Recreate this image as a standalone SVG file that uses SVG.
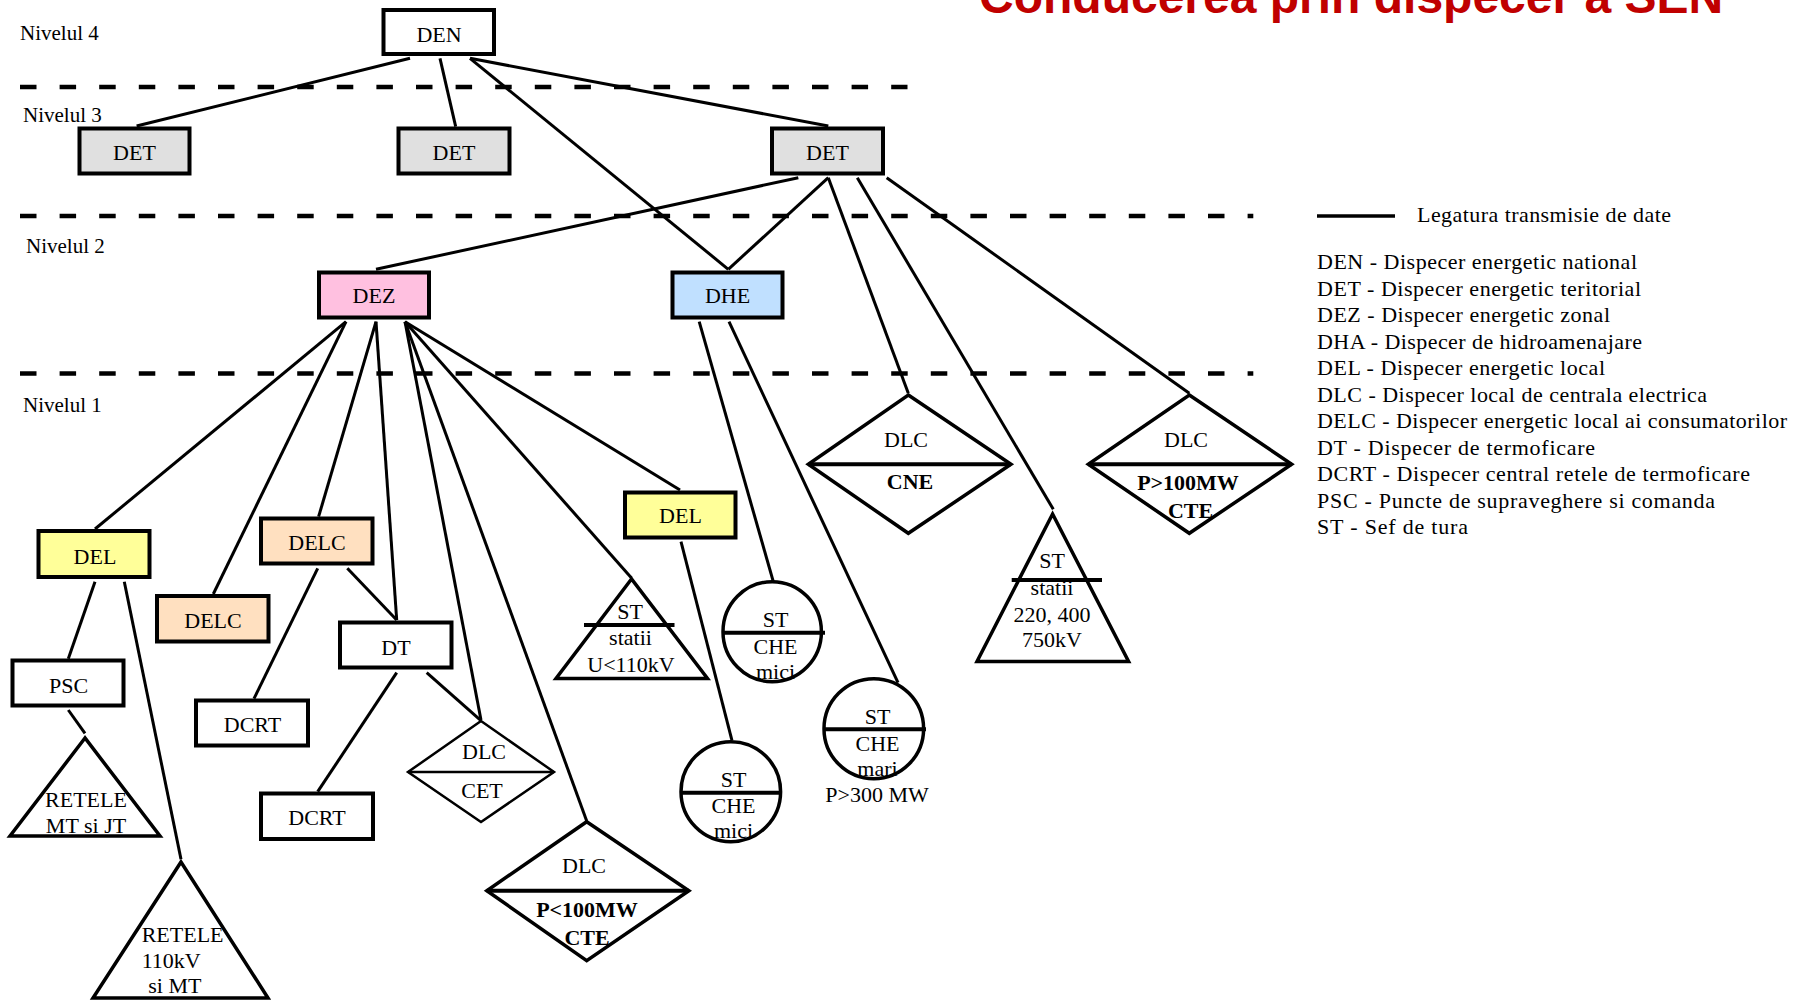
<svg xmlns="http://www.w3.org/2000/svg" width="1803" height="1000" viewBox="0 0 1803 1000">
  <style>
    .bg { fill: #ffffff; }
    .dash { stroke: #000; stroke-width: 4.5; stroke-dasharray: 16.5 23.1; fill: none; }
    .conn { stroke: #000; stroke-width: 3; fill: none; }
    .box { stroke: #000; stroke-width: 4; }
    .shape { fill: #fff; stroke: #000; stroke-width: 3.5; }
    .thin { fill: #fff; stroke: #000; stroke-width: 2.5; }
    .bar { stroke: #000; stroke-width: 4; }
    .lbl { font-family: "Liberation Serif", "Times New Roman", serif; font-size: 22px; text-anchor: middle; fill: #000; }
    .left { text-anchor: start; }
    .b { font-weight: bold; }
    .lvl { font-family: "Liberation Serif", "Times New Roman", serif; font-size: 21px; fill: #000; }
    .leg { font-family: "Liberation Serif", "Times New Roman", serif; font-size: 22px; fill: #000; }
    .title { font-family: "Liberation Sans", Arial, sans-serif; font-size: 48px; font-weight: bold; fill: #c00000; }
    .white { fill: #ffffff; }
    .gray { fill: #e0e0e0; }
    .pink { fill: #ffc0e0; }
    .blue { fill: #c0e0ff; }
    .yellow { fill: #ffff99; }
    .peach { fill: #ffe0c0; }
  </style>

  <rect class="bg" x="0" y="0" width="1803" height="1000"/>

  <!-- title, partly above the top edge -->
  <text class="title" x="979" y="12.5">Conducerea prin dispecer a SEN</text>

  <!-- level separators -->
  <g id="levels">
    <line class="dash" x1="20" y1="87" x2="907.5" y2="87"/>
    <line class="dash" x1="20" y1="216" x2="1253.3" y2="216"/>
    <line class="dash" x1="20" y1="373.5" x2="1253.3" y2="373.5"/>
    <text class="lvl" x="20" y="40">Nivelul 4</text>
    <text class="lvl" x="23" y="122">Nivelul 3</text>
    <text class="lvl" x="26" y="253">Nivelul 2</text>
    <text class="lvl" x="23" y="412">Nivelul 1</text>
  </g>

  <!-- data links -->
  <g id="connectors">
    <line class="conn" x1="410" y1="58.3" x2="136.6" y2="126"/>
    <line class="conn" x1="440" y1="58.3" x2="455.7" y2="126.7"/>
    <line class="conn" x1="470" y1="58.3" x2="728.3" y2="269.3"/>
    <line class="conn" x1="470" y1="58.3" x2="828.3" y2="126"/>
    <line class="conn" x1="828.3" y1="177.7" x2="728.3" y2="269.3"/>
    <line class="conn" x1="798.3" y1="177.7" x2="376" y2="269.3"/>
    <line class="conn" x1="828.3" y1="177.7" x2="908.3" y2="393.3"/>
    <line class="conn" x1="857.3" y1="177.7" x2="1053.3" y2="509.3"/>
    <line class="conn" x1="886.7" y1="177.7" x2="1189.3" y2="393.3"/>
    <line class="conn" x1="346" y1="321.7" x2="95" y2="529"/>
    <line class="conn" x1="346" y1="321.7" x2="213.3" y2="594"/>
    <line class="conn" x1="376" y1="321.7" x2="318.6" y2="516.7"/>
    <line class="conn" x1="376" y1="321.7" x2="396.7" y2="620"/>
    <line class="conn" x1="405" y1="321.7" x2="481" y2="720"/>
    <line class="conn" x1="405" y1="321.7" x2="586.7" y2="821"/>
    <line class="conn" x1="405" y1="321.7" x2="631.5" y2="578"/>
    <line class="conn" x1="405" y1="321.7" x2="680" y2="490"/>
    <line class="conn" x1="317.7" y1="568.3" x2="254" y2="698.7"/>
    <line class="conn" x1="347.3" y1="568.3" x2="396.7" y2="620"/>
    <line class="conn" x1="396.7" y1="672.7" x2="317.7" y2="791.7"/>
    <line class="conn" x1="426.7" y1="672.7" x2="481" y2="720.7"/>
    <line class="conn" x1="95" y1="581.7" x2="68.3" y2="658.7"/>
    <line class="conn" x1="124.3" y1="581.7" x2="181" y2="859.3"/>
    <line class="conn" x1="68.3" y1="710" x2="85" y2="733.3"/>
    <line class="conn" x1="681" y1="541.7" x2="732" y2="740.7"/>
    <line class="conn" x1="699.2" y1="321.7" x2="773.3" y2="581.7"/>
    <line class="conn" x1="729" y1="321.7" x2="898" y2="682.7"/>
  </g>

  <!-- level 4 -->
  <g id="den">
    <rect class="box white" x="383.5" y="10" width="110.5" height="44"/>
    <text class="lbl" x="439" y="41.7">DEN</text>
  </g>

  <!-- level 3 -->
  <g id="det-1">
    <rect class="box gray" x="79.5" y="128.5" width="110" height="45"/>
    <text class="lbl" x="134.5" y="160">DET</text>
  </g>
  <g id="det-2">
    <rect class="box gray" x="398.5" y="128.5" width="111" height="45"/>
    <text class="lbl" x="454" y="160">DET</text>
  </g>
  <g id="det-3">
    <rect class="box gray" x="772" y="128.5" width="111" height="45"/>
    <text class="lbl" x="827.5" y="160">DET</text>
  </g>

  <!-- level 2 -->
  <g id="dez">
    <rect class="box pink" x="319" y="272.5" width="110" height="45"/>
    <text class="lbl" x="374" y="303">DEZ</text>
  </g>
  <g id="dhe">
    <rect class="box blue" x="672.5" y="272.5" width="110" height="45"/>
    <text class="lbl" x="727.5" y="303">DHE</text>
  </g>

  <!-- level 1 -->
  <g id="del-1">
    <rect class="box yellow" x="38.5" y="531" width="111" height="46"/>
    <text class="lbl" x="95" y="564">DEL</text>
  </g>
  <g id="delc-1">
    <rect class="box peach" x="261" y="518.5" width="111.5" height="45"/>
    <text class="lbl" x="317" y="550">DELC</text>
  </g>
  <g id="delc-2">
    <rect class="box peach" x="157" y="596" width="111.5" height="45.5"/>
    <text class="lbl" x="213" y="628">DELC</text>
  </g>
  <g id="psc">
    <rect class="box white" x="12.5" y="660.5" width="111" height="45"/>
    <text class="lbl" x="68.5" y="692.5">PSC</text>
  </g>
  <g id="dt">
    <rect class="box white" x="340" y="622.5" width="111.5" height="45"/>
    <text class="lbl" x="396" y="655">DT</text>
  </g>
  <g id="dcrt-1">
    <rect class="box white" x="196" y="700.5" width="112" height="45"/>
    <text class="lbl" x="252.5" y="731.7">DCRT</text>
  </g>
  <g id="dcrt-2">
    <rect class="box white" x="261" y="793.5" width="112" height="45.5"/>
    <text class="lbl" x="317" y="825">DCRT</text>
  </g>
  <g id="del-2">
    <rect class="box yellow" x="625" y="492.5" width="110.5" height="45"/>
    <text class="lbl" x="680.5" y="523.3">DEL</text>
  </g>

  <!-- networks -->
  <g id="retele-mt-jt">
    <polygon class="shape" points="85,738 10,836 160,836"/>
    <text class="lbl" x="86" y="806.7">RETELE</text>
    <text class="lbl" x="86" y="832.7">MT si JT</text>
  </g>
  <g id="retele-110">
    <polygon class="shape" points="181,862 93,998 268,998"/>
    <text class="lbl left" x="141.7" y="941.7">RETELE</text>
    <text class="lbl left" x="141.7" y="968.3">110kV</text>
    <text class="lbl left" x="148.3" y="993">si MT</text>
  </g>

  <!-- power plant dispatchers -->
  <g id="dlc-cet">
    <polygon class="thin" points="481,721 554,772 481,822 408,772"/>
    <line class="conn" x1="408" y1="772" x2="554" y2="772" style="stroke-width:2.5"/>
    <text class="lbl" x="484" y="759.3">DLC</text>
    <text class="lbl" x="482" y="798.3">CET</text>
  </g>
  <g id="dlc-p100-low">
    <polygon class="shape" points="586.7,821.7 688.9,890.7 586.7,960.7 486.8,890.7"/>
    <line class="bar" x1="486.8" y1="890.7" x2="688.9" y2="890.7"/>
    <text class="lbl" x="584" y="872.7">DLC</text>
    <text class="lbl b" x="587" y="916.7">P&lt;100MW</text>
    <text class="lbl b" x="587" y="945">CTE</text>
  </g>
  <g id="dlc-cne">
    <polygon class="shape" points="908.3,395 1011,464.3 908.3,533.3 808.3,464.3"/>
    <line class="bar" x1="808.3" y1="464.3" x2="1011" y2="464.3"/>
    <text class="lbl" x="906" y="446.7">DLC</text>
    <text class="lbl b" x="910" y="489.3">CNE</text>
  </g>
  <g id="dlc-p100-high">
    <polygon class="shape" points="1189.3,395 1291.7,464.3 1189.3,533.3 1088.3,464.3"/>
    <line class="bar" x1="1088.3" y1="464.3" x2="1291.7" y2="464.3"/>
    <text class="lbl" x="1186" y="446.7">DLC</text>
    <text class="lbl b" x="1188" y="490">P&gt;100MW</text>
    <text class="lbl b" x="1190.5" y="518.3">CTE</text>
  </g>

  <!-- shift leaders: substations -->
  <g id="st-statii-110">
    <polygon class="shape" points="631.5,579 556,678.5 707.5,678.5"/>
    <text class="lbl" x="630" y="619.3">ST</text>
    <text class="lbl" x="630.5" y="645">statii</text>
    <text class="lbl" x="631" y="671.7">U&lt;110kV</text>
    <line class="bar" x1="584" y1="625" x2="674.5" y2="625"/>
  </g>
  <g id="st-statii-750">
    <polygon class="shape" points="1052.6,514 977,661.5 1128.6,661.5"/>
    <text class="lbl" x="1052" y="568.3">ST</text>
    <text class="lbl" x="1052" y="595">statii</text>
    <text class="lbl" x="1052" y="621.7">220, 400</text>
    <text class="lbl" x="1052" y="646.7">750kV</text>
    <line class="bar" x1="1011.7" y1="580" x2="1102" y2="580"/>
  </g>

  <!-- shift leaders: hydro plants -->
  <g id="st-che-mici-1">
    <ellipse class="shape" cx="772.2" cy="631.7" rx="49.2" ry="50"/>
    <line class="bar" x1="723" y1="632.7" x2="825" y2="632.7"/>
    <text class="lbl" x="775.5" y="627.3">ST</text>
    <text class="lbl" x="775.5" y="654">CHE</text>
    <text class="lbl" x="775.5" y="679.3">mici</text>
  </g>
  <g id="st-che-mici-2">
    <ellipse class="shape" cx="730.8" cy="791.7" rx="49.8" ry="50"/>
    <line class="bar" x1="681" y1="792.7" x2="782" y2="792.7"/>
    <text class="lbl" x="733.5" y="786.7">ST</text>
    <text class="lbl" x="733.5" y="813.3">CHE</text>
    <text class="lbl" x="733.5" y="838.3">mici</text>
  </g>
  <g id="st-che-mari">
    <ellipse class="shape" cx="873.8" cy="728.7" rx="49.8" ry="50"/>
    <line class="bar" x1="824" y1="729.3" x2="926" y2="729.3"/>
    <text class="lbl" x="877.5" y="724">ST</text>
    <text class="lbl" x="877.5" y="750.7">CHE</text>
    <text class="lbl" x="877.5" y="775.7">mari</text>
    <text class="lbl" x="877" y="801.7">P&gt;300 MW</text>
  </g>

  <!-- legend -->
  <g id="legend">
    <line class="conn" x1="1317" y1="216" x2="1395" y2="216" style="stroke-width:3.5"/>
    <text class="leg" x="1417" y="221.7" textLength="254" lengthAdjust="spacing">Legatura transmisie de date</text>
    <text class="leg" x="1317" y="269" textLength="320" lengthAdjust="spacing">DEN - Dispecer energetic national</text>
    <text class="leg" x="1317" y="295.5" textLength="324" lengthAdjust="spacing">DET - Dispecer energetic teritorial</text>
    <text class="leg" x="1317" y="322" textLength="293" lengthAdjust="spacing">DEZ - Dispecer energetic zonal</text>
    <text class="leg" x="1317" y="348.5" textLength="325" lengthAdjust="spacing">DHA - Dispecer de hidroamenajare</text>
    <text class="leg" x="1317" y="375" textLength="288" lengthAdjust="spacing">DEL - Dispecer energetic local</text>
    <text class="leg" x="1317" y="401.5" textLength="390" lengthAdjust="spacing">DLC - Dispecer local de centrala electrica</text>
    <text class="leg" x="1317" y="428" textLength="470" lengthAdjust="spacing">DELC - Dispecer energetic local ai consumatorilor</text>
    <text class="leg" x="1317" y="454.5" textLength="278" lengthAdjust="spacing">DT - Dispecer de termoficare</text>
    <text class="leg" x="1317" y="481" textLength="433" lengthAdjust="spacing">DCRT - Dispecer central retele de termoficare</text>
    <text class="leg" x="1317" y="507.5" textLength="398" lengthAdjust="spacing">PSC - Puncte de supraveghere si comanda</text>
    <text class="leg" x="1317" y="534" textLength="151" lengthAdjust="spacing">ST - Sef de tura</text>
  </g>
</svg>
